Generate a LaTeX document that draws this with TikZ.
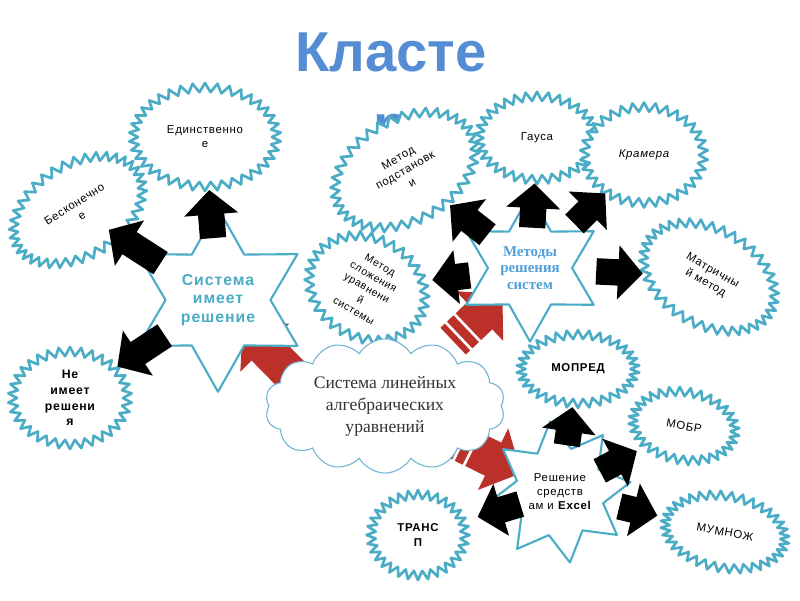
\documentclass[tikz,border=0pt]{standalone}
\usepackage{fontspec}
\setmainfont{Liberation Sans}
\newfontfamily\serifcyr{Liberation Serif}
\newfontfamily\burstfont[LetterSpace=6]{Liberation Sans}
\usetikzlibrary{arrows.meta, calc, backgrounds, shapes.symbols, shapes.geometric}

\definecolor{zig}{RGB}{75,172,198}
\definecolor{ttl}{RGB}{84,141,212}
\definecolor{mtd}{RGB}{80,160,215}
\definecolor{redarr}{RGB}{188,48,42}
\definecolor{cloudline}{RGB}{110,180,210}

\tikzset{
  burst/.style={starburst, random starburst=0, starburst points=38,
    starburst point height=0.18cm, draw=zig, line width=1.5pt, fill=white,
    align=center, inner sep=1pt, font=\burstfont\fontsize{6.5}{8}\selectfont},
  bigstar/.style={star, star points=6, star point ratio=1.75, draw=zig,
    line width=1.2pt, fill=white, align=center, inner sep=0pt},
  blkarrow/.style={line width=15pt, black, -{Triangle[length=14pt,width=30pt]}},
  redarrow/.style={line width=21pt, redarr, -{Triangle[length=18pt,width=38pt]}},
  redbar/.style={line width=21pt, redarr},
}

\begin{document}
\begin{tikzpicture}[x=0.02cm, y=-0.02cm, line join=round]
    \useasboundingbox (0,0) rectangle (800,600);

    % Title (its last letter slips under the burst below)
    \node[anchor=north, inner sep=0pt, align=center, text=ttl,
          font=\fontsize{32}{42}\selectfont\bfseries] (title) at (391,32) {Класте\\р};

    % Stars
    \node[bigstar, minimum size=2.8cm, text=zig,
          font=\burstfont\fontsize{9}{10.5}\selectfont\bfseries] (sysres) at (218,300) {Система\\имеет\\решение};
    \node[bigstar, minimum size=2.6cm, text=mtd,
          font=\serifcyr\fontsize{8.5}{9.5}\selectfont\bfseries] (metody) at (530,268) {Методы\\решения\\систем};
    \node[bigstar, star points=8, star point ratio=1.6, minimum size=2.4cm, shape border rotate=8,
          font=\burstfont\fontsize{6.5}{8}\selectfont] (excel) at (560,492) {Решение\\средств\\ам и \textbf{Excel}};

    % Bursts
    \node[burst, minimum width=3.04cm, minimum height=2.16cm] (edin) at (205,137) {Единственно\\е};
    \node[burst, minimum width=3.0cm, minimum height=2.0cm, rotate=32] (beskon) at (78,210) {Бесконечно\\е};
    \node[burst, minimum width=2.48cm, minimum height=1.8cm, starburst points=34,
          font=\burstfont\fontsize{7}{9}\selectfont\bfseries] (neimeet) at (70,398) {Не\\имеет\\решени\\я};
    \node[burst, minimum width=3.2cm, minimum height=2.2cm, rotate=30] (podst) at (405,170) {Метод\\подстановк\\и};
    \node[burst, minimum width=2.5cm, minimum height=1.85cm, starburst points=34] (gaus) at (537,138) {Гауса};
    \node[burst, minimum width=2.56cm, minimum height=2.1cm, starburst points=34,
          font=\burstfont\fontsize{6.5}{8}\selectfont\itshape] (kramer) at (644,155) {Крамера};
    \node[burst, minimum width=3.0cm, minimum height=2.08cm, rotate=-30] (matr) at (709,277) {Матричны\\й метод};
    \node[burst, minimum width=2.6cm, minimum height=1.92cm, rotate=-30, starburst points=34,
          font=\burstfont\fontsize{6}{7.5}\selectfont] (slozh) at (367,288) {Метод\\сложения\\уравнени\\й\\системы};
    \node[burst, minimum width=2.46cm, minimum height=1.56cm, starburst points=34,
          font=\burstfont\fontsize{6.5}{8}\selectfont\bfseries] (mopred) at (578,369) {МОПРЕД};
    \node[burst, minimum width=2.24cm, minimum height=1.54cm, rotate=-10, starburst points=32] (mobr) at (684,426) {МОБР};
    \node[burst, minimum width=2.06cm, minimum height=1.8cm, starburst points=32,
          font=\burstfont\fontsize{6.5}{8}\selectfont\bfseries] (transp) at (418,535) {ТРАНС\\П};
    \node[burst, minimum width=2.6cm, minimum height=1.62cm, rotate=-10, starburst points=36] (mumnozh) at (725,532) {МУМНОЖ};

    % Cloud
    \node[cloud, cloud puffs=14, cloud puff arc=120, aspect=2, draw=cloudline, line width=0.6pt,
          fill=white, minimum width=4.8cm, minimum height=2.44cm, align=center, text=black!80,
          font=\serifcyr\fontsize{10}{12.5}\selectfont] (cloud) at (385,406) {Система линейных\\алгебраических\\уравнений};
    \coordinate (cloud-w) at ($(cloud)+(-55,8)$);

    % black block arrows, star -> burst
    \foreach \a/\b/\s/\e in {
      sysres/edin/0.38/0.675, sysres/beskon/0.41/0.78, sysres/neimeet/0.36/0.68,
      metody/podst/0.34/0.64, metody/gaus/0.31/0.65, metody/kramer/0.39/0.66,
      metody/matr/0.37/0.63, metody/slozh/0.37/0.6,
      excel/mopred/0.38/0.69, excel/mobr/0.32/0.62, excel/mumnozh/0.36/0.59, excel/transp/0.28/0.58
    } {
      \draw[blkarrow] ($(\a)!\s!(\b)$) -- ($(\a)!\e!(\b)$);
    }

    % red striped arrows, cloud -> star
    \begin{scope}[on background layer]
    \foreach \a/\b/\s/\e in {cloud-w/sysres/0.2/0.78, cloud/metody/0.47/0.81, cloud/excel/0.4/0.78} {
      \draw[redbar] ($(\a)!\s!(\b)$) -- ($(\a)!\s+0.03!(\b)$);
      \draw[redbar] ($(\a)!\s+0.045!(\b)$) -- ($(\a)!\s+0.09!(\b)$);
      \draw[redarrow] ($(\a)!\s+0.105!(\b)$) -- ($(\a)!\e!(\b)$);
    }
    \end{scope}
\end{tikzpicture}
\end{document}
